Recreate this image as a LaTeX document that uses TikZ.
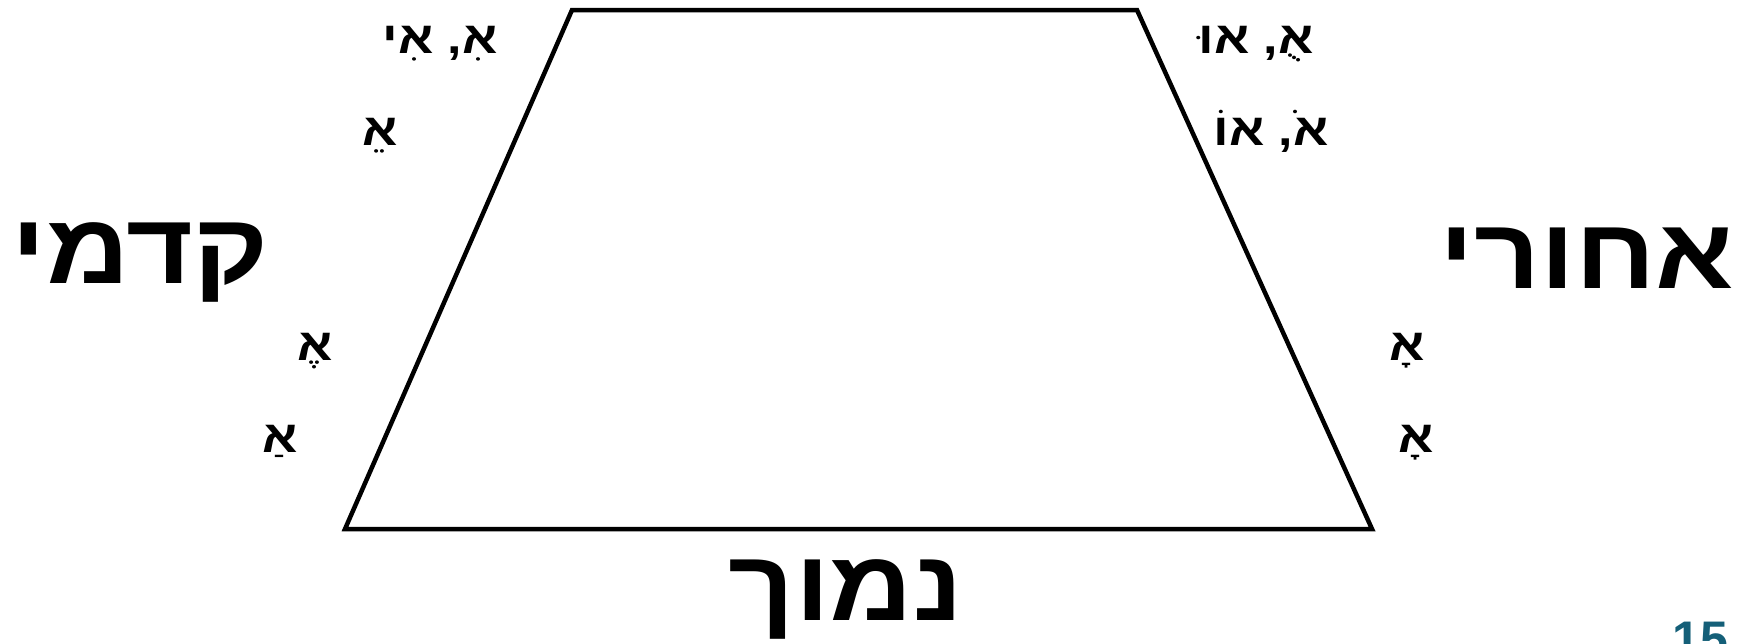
\documentclass[tikz,border=0pt]{standalone}
\usepackage{fontspec}
\setmainfont{Liberation Sans}
\newfontfamily\hebfont[Script=Hebrew, FakeStretch=1.15]{Liberation Sans}
\TeXXeTstate=1
\usetikzlibrary{positioning}
\definecolor{pageteal}{RGB}{20,95,120}

\begin{document}
\begin{tikzpicture}[x=1pt, y=-1pt,
  side/.style={font=\fontsize{100}{100}\selectfont\hebfont\bfseries, anchor=base, inner sep=0pt},
  vowel/.style={font=\fontsize{45}{45}\selectfont\hebfont\bfseries, anchor=base, inner sep=0pt}]
\useasboundingbox (0,0) rectangle (1748,643);
\coordinate (tl) at (572,10);
\coordinate (tr) at (1137,10);
\coordinate (br) at (1372,529);
\coordinate (bl) at (345,529);
\draw[line width=4.5pt] (tl) -- (tr) -- (br) -- (bl) -- cycle;
\node[side] (front) at (140,283) {\beginR קדמי\endR};
\node[side] (back) at (1587,288) {\beginR אחורי\endR};
\node[side] (low) at (846,620) {\beginR נמוך\endR};
\node[vowel] (hiriq) at (440,53) {\beginR אִ, אִי\endR};
\node[vowel] (tsere) at (380,145) {\beginR אֵ\endR};
\node[vowel] (segol) at (315,360) {\beginR אֶ\endR};
\node[vowel] (patah) at (280,452) {\beginR אַ\endR};
\node[vowel] (shuruk) at (1256,53) {\beginR אֻ, אוּ\endR};
\node[vowel] (holam) at (1271,145) {\beginR אֹ, אוֹ\endR};
\node[vowel] (qamats) at (1407,360) {\beginR אָ\endR};
\node[vowel] (qamatsb) at (1416,452) {\beginR אָ\endR};
\node[font=\fontsize{50}{50}\selectfont\bfseries, text=pageteal, anchor=base west, inner sep=0pt] (page) at (1672,656) {15};
\end{tikzpicture}
\end{document}
